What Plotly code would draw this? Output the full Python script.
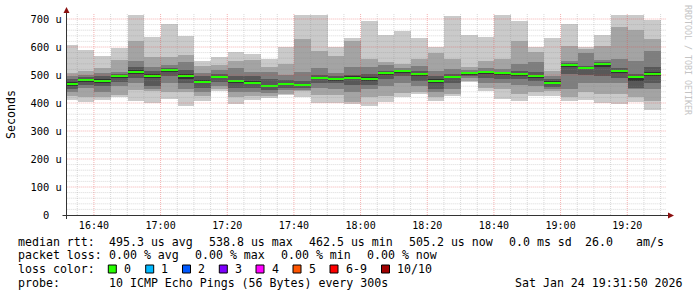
import plotly.graph_objects as go
from datetime import datetime, timedelta

W, H = 697, 297

# ---- data: end time of each 5-minute step ----
times = ["16:35", "16:40", "16:45", "16:50", "16:55", "17:00", "17:05", "17:10", "17:15",
         "17:20", "17:25", "17:30", "17:35", "17:40", "17:45", "17:50", "17:55", "18:00",
         "18:05", "18:10", "18:15", "18:20", "18:25", "18:30", "18:35", "18:40", "18:45",
         "18:50", "18:55", "19:00", "19:05", "19:10", "19:15", "19:20", "19:25", "19:30"]

# sorted ping RTTs (microseconds): p1 = min ... p10 = max
p10 = [607, 589, 568, 598, 714, 637, 682, 640, 551, 564, 581, 575, 557, 600, 714, 714, 599, 631,
       694, 643, 656, 633, 599, 712, 643, 637, 714, 694, 599, 632, 682, 599, 644, 714, 714, 696]
p9 = [508, 514, 524, 552, 622, 564, 565, 572, 532, 535, 550, 554, 528, 540, 629, 587, 569, 622,
      557, 546, 540, 557, 580, 557, 527, 551, 557, 620, 581, 515, 605, 593, 605, 673, 661, 629]
p8 = [495, 500, 508, 510, 550, 530, 535, 546, 506, 518, 525, 512, 510, 499, 510, 524, 508, 527,
      527, 535, 525, 533, 514, 520, 518, 525, 521, 539, 545, 495, 551, 577, 554, 557, 551, 587]
p7 = [485, 492, 495, 503, 530, 515, 525, 518, 495, 505, 495, 495, 486, 482, 478, 500, 495, 500,
      505, 515, 519, 515, 495, 505, 512, 515, 512, 515, 510, 485, 542, 533, 545, 525, 505, 530]
p6 = [475, 486, 485, 500, 518, 502, 522, 502, 482, 497, 483, 477, 466, 471, 468, 493, 490, 495,
      492, 512, 518, 507, 485, 498, 510, 514, 509, 508, 500, 478, 538, 530, 541, 518, 498, 510]
median = [468, 482, 478, 497, 512, 496, 519, 496, 476, 493, 477, 472, 462.5, 467, 464, 489, 486, 491,
          486, 507, 515, 502, 480, 494, 507, 511, 506, 504, 496, 473, 535, 526, 538.8, 515, 494, 505.2]
p5 = [462, 476, 470, 490, 505, 488, 510, 485, 470, 488, 470, 467, 456, 463, 460, 484, 480, 485,
      478, 500, 508, 495, 473, 488, 503, 505, 500, 498, 490, 468, 528, 520, 530, 508, 480, 495]
p4 = [450, 465, 460, 475, 490, 460, 495, 470, 455, 475, 455, 455, 445, 455, 452, 470, 470, 465,
      465, 485, 495, 480, 450, 470, 495, 490, 485, 485, 478, 458, 505, 500, 495, 490, 455, 470]
p3 = [440, 452, 440, 460, 470, 450, 470, 450, 440, 460, 440, 440, 435, 445, 445, 455, 450, 440,
      450, 460, 470, 460, 440, 450, 488, 470, 470, 465, 460, 450, 450, 470, 470, 470, 450, 450]
p2 = [425, 420, 422, 430, 446, 444, 440, 438, 426, 450, 420, 425, 425, 432, 442, 430, 430, 405,
      420, 426, 436, 438, 422, 432, 480, 455, 450, 432, 438, 444, 420, 438, 432, 432, 423, 408]
p1 = [412, 405, 410, 421, 408, 399, 414, 390, 406, 443, 395, 411, 418, 427, 423, 399, 399, 396,
      389, 402, 421, 432, 406, 426, 474, 442, 414, 408, 426, 426, 408, 411, 399, 396, 402, 375]

y_tick_vals = [0, 100, 200, 300, 400, 500, 600, 700]
y_tick_text = ["0\u00a0\u00a0", "100 u", "200 u", "300 u", "400 u", "500 u", "600 u", "700 u"]
x_tick_labels = ["16:40", "17:00", "17:20", "17:40", "18:00", "18:20", "18:40", "19:00", "19:20"]

loss_labels = ["0", "1", "2", "3", "4", "5", "6-9", "10/10"]
loss_colors = ["#26ff00", "#00b8ff", "#0059ff", "#7e00ff", "#ff00ff", "#ff5500", "#ff0000", "#a10000"]

smoke_colors = ["#cacaca", "#a4a4a4", "#7e7e7e", "#585858", "#323232"]

# ---- geometry ----
DAY = "2026-01-24 "
t_start = datetime(2026, 1, 24, 16, 31, 50)
t_end = datetime(2026, 1, 24, 19, 31, 50)
step_ms = 300000

ends = [datetime.strptime(DAY + t, "%Y-%m-%d %H:%M") for t in times]
centers = [e - timedelta(seconds=150) for e in ends]

X0, X1 = 66.7, 666.7     # plot area px
Y0, Y1 = 215.0, 13.0     # bottom / top px
YMAX = (Y0 - Y1) / 0.28  # 100u = 28px


def px(x):
    return x / W


def py(y):
    return 1 - y / H


fig = go.Figure()

lows = [p1, p2, p3, p4, p5]
highs = [p10, p9, p8, p7, p6]
for lo, hi, col in zip(lows, highs, smoke_colors):
    fig.add_trace(go.Bar(
        x=centers, base=lo, y=[h - l for h, l in zip(hi, lo)],
        width=[step_ms] * len(centers), marker=dict(color=col, line=dict(width=0)),
        hoverinfo="skip", showlegend=False))

# median line (loss 0 colour)
mh = 2.0 / 0.28  # 2 px thick
fig.add_trace(go.Bar(
    x=centers, base=[m - mh / 2 for m in median], y=[mh] * len(median),
    width=[step_ms] * len(centers), marker=dict(color=loss_colors[0], line=dict(width=0)),
    hoverinfo="skip", showlegend=False))

GRID_MINOR = "rgba(140,140,140,0.33)"
GRID_MAJOR = "rgba(230,70,70,0.42)"
shapes = []
# grid (drawn above the smoke like rrdtool, translucent)
t = datetime(2026, 1, 24, 16, 35)
while t <= t_end:
    major = (t.minute % 20 == 0)
    shapes.append(dict(type="line", xref="x", yref="y domain", x0=t, x1=t, y0=0, y1=1,
                       line=dict(color=GRID_MAJOR if major else GRID_MINOR, width=1, dash="1px,1px"),
                       layer="above"))
    t += timedelta(minutes=5)
for v in range(20, 720, 20):
    major = (v % 100 == 0)
    shapes.append(dict(type="line", xref="x domain", yref="y", x0=0, x1=1, y0=v, y1=v,
                       line=dict(color=GRID_MAJOR if major else GRID_MINOR, width=1, dash="1px,1px"),
                       layer="above"))
# axes lines + arrows
axis_col = "#333333"
arrow_col = "#8b1010"
shapes.append(dict(type="line", xref="paper", yref="paper", x0=px(62.5), x1=px(669), y0=py(215.5), y1=py(215.5),
                   line=dict(color=axis_col, width=1), layer="above"))
shapes.append(dict(type="line", xref="paper", yref="paper", x0=px(66.5), x1=px(66.5), y0=py(219), y1=py(11),
                   line=dict(color=axis_col, width=1), layer="above"))
shapes.append(dict(type="path", xref="paper", yref="paper",
                   path=f"M {px(668)} {py(212.5)} L {px(674)} {py(215.5)} L {px(668)} {py(218.5)} Z",
                   fillcolor=arrow_col, line=dict(width=0), layer="above"))
shapes.append(dict(type="path", xref="paper", yref="paper",
                   path=f"M {px(63.5)} {py(13)} L {px(66.5)} {py(7)} L {px(69.5)} {py(13)} Z",
                   fillcolor=arrow_col, line=dict(width=0), layer="above"))

# loss color swatches
sw_x = [108.3, 145.7, 182.5, 219.3, 256.0, 293.0, 330.0, 381.5]
lab_x = [122.5, 159.5, 196.5, 233.3, 270.5, 307.3, 344.3, 395.5]
for sx, col in zip(sw_x, loss_colors):
    shapes.append(dict(type="rect", xref="paper", yref="paper", x0=px(sx), x1=px(sx + 8),
                       y0=py(273), y1=py(265), fillcolor=col, line=dict(color="#000000", width=1)))

mono = "DejaVu Sans Mono"
LF = dict(family=mono, size=11.6, color="#000000")
ann = []


def text(x, y, s, font=LF, **kw):
    ann.append(dict(x=px(x), y=py(y), xref="paper", yref="paper", text=s, showarrow=False,
                    xanchor=kw.get("xanchor", "left"), yanchor="middle", font=font,
                    textangle=kw.get("textangle", 0)))


row1 = [(16.7, "median rtt:"), (107.3, "495.3 us avg"), (207.3, "538.8 us max"), (307.0, "462.5 us min"),
        (407.3, "505.2 us now"), (507.3, "0.0 ms sd"), (583.5, "26.0"), (634.5, "am/s")]
row2 = [(16.7, "packet loss:"), (107.3, "0.00 % avg"), (193.3, "0.00 % max"), (279.3, "0.00 % min"),
        (365.3, "0.00 % now")]
row3 = [(16.7, "loss color:")] + list(zip(lab_x, loss_labels))
row4 = [(16.7, "probe:"), (107.3, "10 ICMP Echo Pings (56 Bytes) every 300s"), (513.3, "Sat Jan 24 19:31:50 2026")]
for yy, row in zip([241.5, 255.3, 269.0, 283.0], [row1, row2, row3, row4]):
    for x, s in row:
        text(x - 0.5, yy, s)

text(11, 115, "Seconds", font=dict(family=mono, size=11.6, color="#000000"), xanchor="center", textangle=-90)
text(688, 60, "RRDTOOL / TOBI OETIKER", font=dict(family=mono, size=8.3, color="#c4c4c4"),
     xanchor="center", textangle=90)

fig.update_layout(
    width=W, height=H, margin=dict(l=0, r=0, t=0, b=0, autoexpand=False),
    paper_bgcolor="#ffffff", plot_bgcolor="#ffffff",
    barmode="overlay", bargap=0, showlegend=False,
    shapes=shapes, annotations=ann,
    xaxis=dict(domain=[px(X0), px(X1)], type="date", range=[t_start, t_end],
               tickvals=[datetime.strptime(DAY + s, "%Y-%m-%d %H:%M") for s in x_tick_labels],
               ticktext=x_tick_labels, showgrid=False, zeroline=False, showline=False, ticks="",
               tickfont=dict(family=mono, size=10, color="#000000"), ticklabelstandoff=3,
               automargin=False),
    yaxis=dict(domain=[py(Y0), py(Y1)], range=[0, YMAX], tickvals=y_tick_vals, ticktext=y_tick_text,
               showgrid=False, zeroline=False, showline=False, ticks="",
               tickfont=dict(family=mono, size=10.4, color="#000000"), ticklabelstandoff=4,
               automargin=False),
)

fig.write_html("out.html")
